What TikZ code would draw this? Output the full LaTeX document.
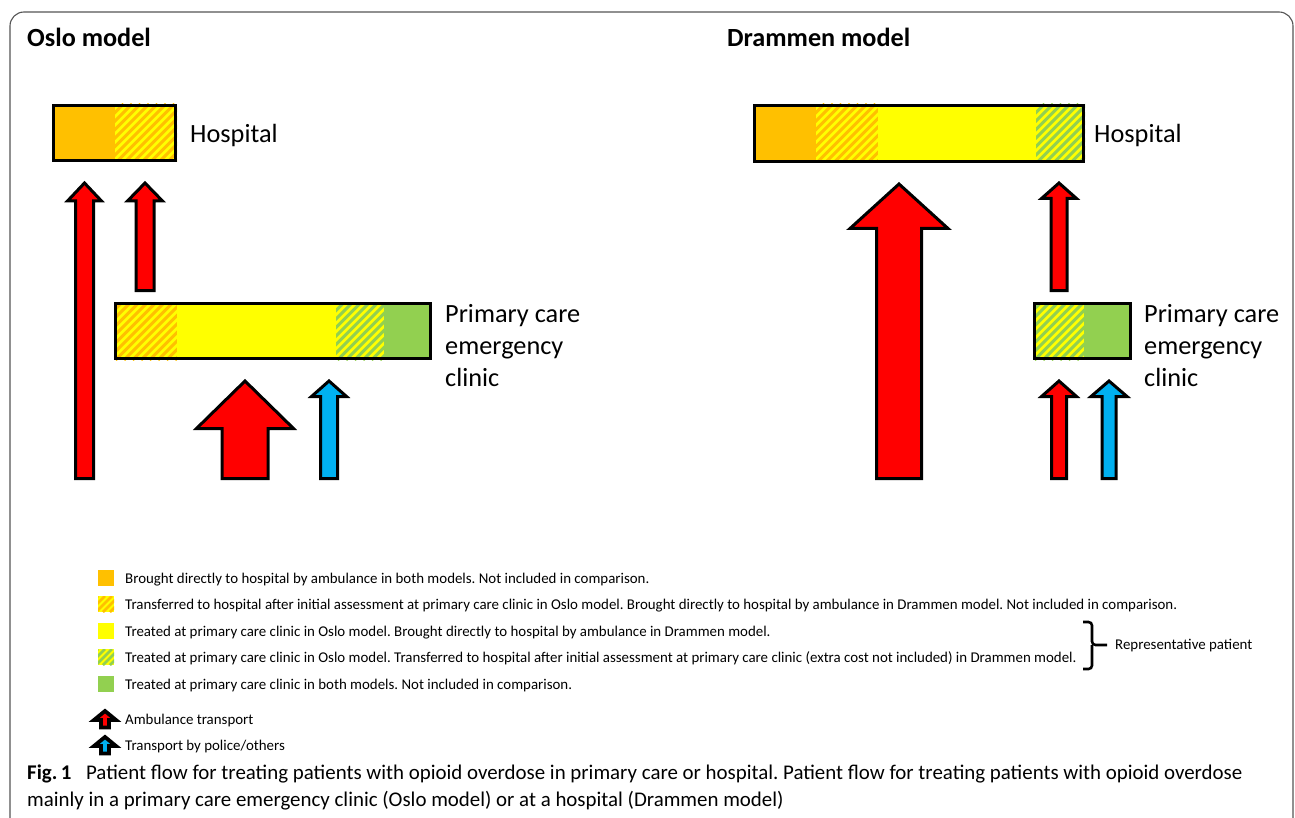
\documentclass[tikz,border=0pt]{standalone}
\usepackage{fontspec}
\setmainfont{Carlito}
\frenchspacing
\definecolor{orangeC}{HTML}{FFC000}
\definecolor{yellowC}{HTML}{FFFF00}
\definecolor{greenC}{HTML}{92D050}
\definecolor{redC}{HTML}{FF0000}
\definecolor{blueC}{HTML}{00B0F0}
\definecolor{frameC}{HTML}{555555}
% hatch: x1,y1,x2,y2,background,stripe style,step
\newcommand\hatchbox[7]{%
  \begin{scope}
    \clip (#1,#2) rectangle (#3,#4);
    \fill[#5] (#1,#2) rectangle (#3,#4);
    \pgfmathsetmacro\hh{#4-#2}
    \pgfmathsetmacro\hs{#1-\hh}
    \pgfmathsetmacro\hn{\hs+#7}
    \foreach \a in {\hs,\hn,...,#3} {\draw[#6] (\a,#4) -- ++(\hh,-\hh);}
  \end{scope}}
% block arrow: cx, ybottom, ytip, ybase, shaftw, headw, colour, line width
\newcommand\blockarrow[8]{%
  \pgfmathsetmacro\sa{#1-#5/2}\pgfmathsetmacro\sb{#1+#5/2}%
  \pgfmathsetmacro\ha{#1-#6/2}\pgfmathsetmacro\hb{#1+#6/2}%
  \filldraw[fill=#7, draw=black, line width=#8, line join=miter]
    (\sa,#2) -- (\sa,#4) -- (\ha,#4) -- (#1,#3) -- (\hb,#4) -- (\sb,#4) -- (\sb,#2) -- cycle;}
\tikzset{
  box/.style={draw=black, line width=3pt, inner sep=0pt, outer sep=0pt, anchor=north west},
  lbl/.style={font=\fontsize{26.3}{30}\selectfont, anchor=base west, inner sep=0pt},
  titletext/.style={font=\fontsize{26.2}{30}\selectfont\bfseries, anchor=base west, inner sep=0pt},
  leg/.style={font=\fontsize{14.9}{17}\selectfont, anchor=base west, inner sep=0pt},
  captext/.style={font=\fontsize{20.9}{24}\selectfont, anchor=base west, inner sep=0pt},
  ostripe/.style={orangeC, line width=3pt},
  gstripe/.style={greenC, line width=3pt},
  bracestyle/.style={line width=2.6pt, rounded corners=3.5pt},
}
\begin{document}
\begin{tikzpicture}[x=1pt,y=-1pt]
\useasboundingbox (0,0) rectangle (1295,818);
\begin{scope}
\clip (0,0) rectangle (1295,818);
\draw[frameC, line width=1.1pt] (10,830) -- (10,26) arc[start angle=180,end angle=270,radius=14] -- (1279,12) arc[start angle=270,end angle=360,radius=14] -- (1293,830);
\end{scope}

% titles
\node[titletext] (tO) at (27,47) {Oslo model};
\node[titletext] (tD) at (727,47) {Drammen model};

% ---------- Oslo hospital
\fill[orangeC] (52,104) rectangle (115,162);
\hatchbox{115}{104}{177}{162}{yellowC}{ostripe}{8.5}
\node[box, minimum width=122pt, minimum height=55pt] (hospO) at (53.5,105.5) {};
\node[lbl] (hospOl) at (190,143) {Hospital};

% ---------- Oslo primary care
\hatchbox{114}{302}{177}{360}{yellowC}{ostripe}{8.5}
\fill[yellowC] (177,302) rectangle (336,360);
\hatchbox{336}{302}{384}{360}{yellowC}{gstripe}{8.5}
\fill[greenC] (384,302) rectangle (432,360);
\node[box, minimum width=315pt, minimum height=55pt] (pcO) at (115.5,303.5) {};
\node[lbl] (pcOl1) at (445,322) {Primary care};
\node[lbl] (pcOl2) at (445,354) {emergency};
\node[lbl] (pcOl3) at (445,386) {clinic};

% Oslo arrows
\blockarrow{84.5}{478.5}{183}{201}{18}{34}{redC}{3pt}
\blockarrow{145}{290.5}{183}{201}{18}{35}{redC}{3pt}
\blockarrow{245}{478.5}{381}{428.5}{46}{97}{redC}{3pt}
\blockarrow{329}{478.5}{381}{396.5}{17}{35}{blueC}{3pt}

% ---------- Drammen hospital
\fill[orangeC] (753,104) rectangle (816,163);
\hatchbox{816}{104}{878}{163}{yellowC}{ostripe}{8.5}
\fill[yellowC] (878,104) rectangle (1036,163);
\hatchbox{1036}{104}{1085}{163}{yellowC}{gstripe}{8.5}
\node[box, minimum width=329pt, minimum height=56pt] (hospD) at (754.5,105.5) {};
\node[lbl] (hospDl) at (1094,143) {Hospital};

% ---------- Drammen primary care
\hatchbox{1033}{302}{1084}{360}{yellowC}{gstripe}{8.5}
\fill[greenC] (1084,302) rectangle (1132,360);
\node[box, minimum width=96pt, minimum height=55pt] (pcD) at (1034.5,303.5) {};
\node[lbl] (pcDl1) at (1144,322) {Primary care};
\node[lbl] (pcDl2) at (1144,354) {emergency};
\node[lbl] (pcDl3) at (1144,386) {clinic};

% Drammen arrows
\blockarrow{899}{478.5}{184}{228.5}{45}{98}{redC}{3pt}
\blockarrow{1059}{290.5}{183}{198.5}{16}{35}{redC}{3pt}
\blockarrow{1059}{478.5}{381}{396.5}{15}{35}{redC}{3pt}
\blockarrow{1109}{478.5}{381}{396.5}{14}{36}{blueC}{3pt}

% ---------- legend
\fill[orangeC] (98,570) rectangle (114,586);
\hatchbox{98}{596}{114}{612}{yellowC}{orangeC, line width=2.6pt}{7}
\fill[yellowC] (98,623) rectangle (114,639);
\hatchbox{98}{649}{114}{665}{yellowC}{greenC, line width=2.6pt}{7}
\fill[greenC] (98,676) rectangle (114,692);
\node[leg] (l1) at (125,583) {Brought directly to hospital by ambulance in both models. Not included in comparison.};
\node[leg] (l2) at (125,609) {Transferred to hospital after initial assessment at primary care clinic in Oslo model. Brought directly to hospital by ambulance in Drammen model. Not included in comparison.};
\node[leg] (l3) at (125,636) {Treated at primary care clinic in Oslo model. Brought directly to hospital by ambulance in Drammen model.};
\node[leg] (l4) at (125,662) {Treated at primary care clinic in Oslo model. Transferred to hospital after initial assessment at primary care clinic (extra cost not included) in Drammen model.};
\node[leg] (l5) at (125,689) {Treated at primary care clinic in both models. Not included in comparison.};

\blockarrow{105}{727.5}{711}{720}{8}{22}{redC}{3.8pt}
\blockarrow{105}{753.5}{737}{746}{8}{22}{blueC}{3.8pt}
\node[leg] (l6) at (125,724) {Ambulance transport};
\node[leg] (l7) at (125,750) {Transport by police/others};

\coordinate (btop) at (1083,622);
\coordinate (bbot) at (1083,669);
\coordinate (btip) at (1107,645);
\draw[bracestyle] (btop) -- (1092,622) -- (1092,645) -- (btip);
\draw[bracestyle] (bbot) -- (1092,669) -- (1092,645);
\node[leg] (rep) at (1115,649) {Representative patient};

% ---------- caption
\node[captext] (c1) at (27,779) {\textbf{Fig.\,1}\hspace{0.7em}Patient flow for treating patients with opioid overdose in primary care or hospital. Patient flow for treating patients with opioid overdose};
\node[captext] (c2) at (27,806) {mainly in a primary care emergency clinic (Oslo model) or at a hospital (Drammen model)};
\end{tikzpicture}
\end{document}
